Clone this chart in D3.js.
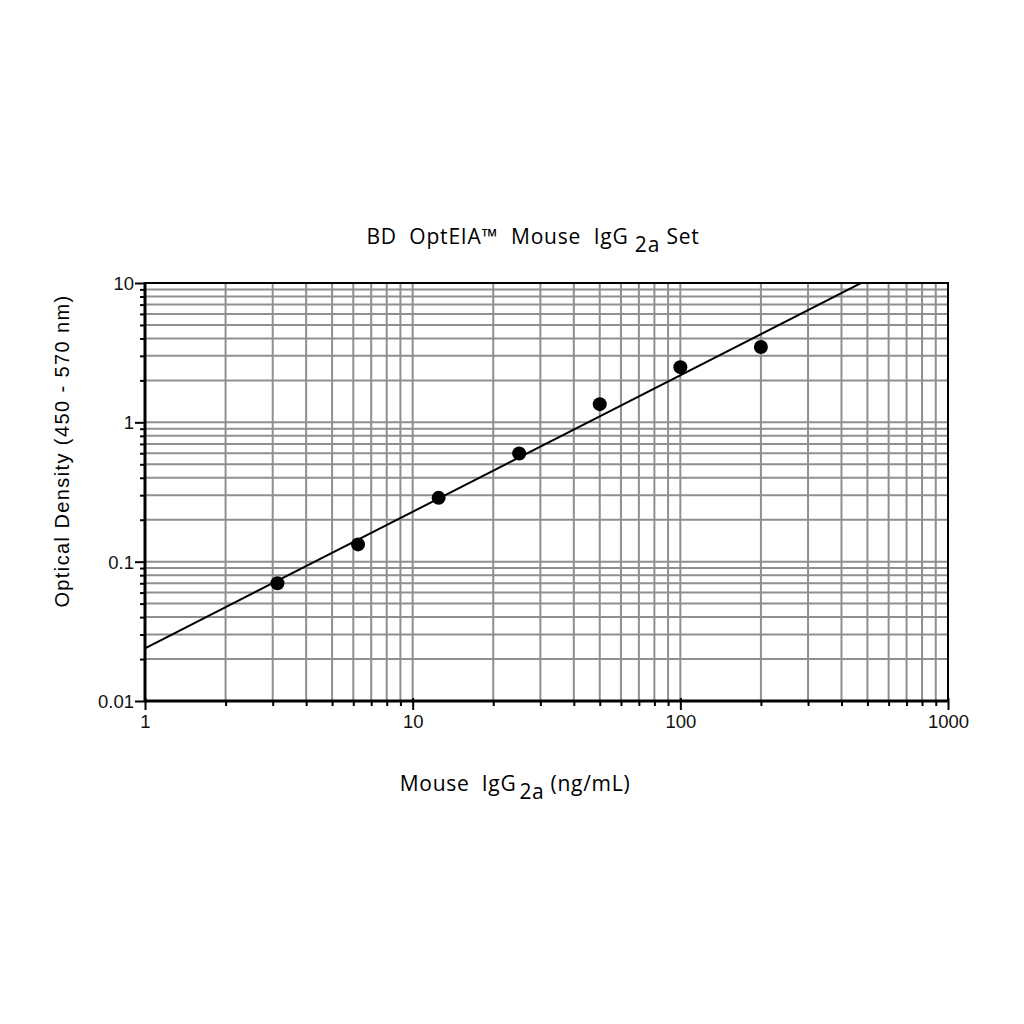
<!DOCTYPE html>
<html>
<head>
<meta charset="utf-8">
<script src="https://cdn.jsdelivr.net/npm/d3@7"></script>
<style>
  body { margin: 0; background: #fff; }
  text { white-space: pre; }
</style>
</head>
<body>
<svg id="canvas" width="1024" height="1024"></svg>
<script>
const conc = [3.125, 6.25, 12.5, 25, 50, 100, 200]
const od = [0.070, 0.133, 0.287, 0.597, 1.35, 2.49, 3.47]
// fitted standard curve, log10(od) = a + b * log10(conc)
const fitA = -1.622
const fitB = 0.98
const xTicks = [1, 10, 100, 1000]
const yTicks = [0.01, 0.1, 1, 10]

const plotLeft = 145, plotRight = 948, plotTop = 283, plotBottom = 701

const svg = d3.select("#canvas")

const x = d3.scaleLog().domain([1, 1000]).range([plotLeft, plotRight])
const y = d3.scaleLog().domain([0.01, 10]).range([plotBottom, plotTop])

// minor values for the grid, 2..9 in each decade
const xMinor = []
for (let d = 1; d < 1000; d *= 10)
    for (let k = 2; k <= 9; k++) xMinor.push(d * k)
const yMinor = []
for (let d = 0.01; d < 9; d *= 10)
    for (let k = 2; k <= 9; k++) yMinor.push(+(d * k).toPrecision(3))

const grid = svg.append("g").attr("stroke", "#8f8f8f").attr("stroke-width", 2)
grid.selectAll(".gx").data(xMinor.concat([10, 100])).enter().append("line")
    .attr("x1", d => x(d)).attr("x2", d => x(d))
    .attr("y1", plotTop).attr("y2", plotBottom)
grid.selectAll(".gy").data(yMinor.concat([0.1, 1])).enter().append("line")
    .attr("x1", plotLeft).attr("x2", plotRight)
    .attr("y1", d => y(d)).attr("y2", d => y(d))

// frame
svg.append("rect")
    .attr("x", plotLeft).attr("y", plotTop)
    .attr("width", plotRight - plotLeft).attr("height", plotBottom - plotTop)
    .attr("fill", "none").attr("stroke", "black").attr("stroke-width", 2)

const xAxis = svg.append("g")
    .attr("transform", `translate(0,${plotBottom})`)
    .call(d3.axisBottom(x).tickValues(xTicks.concat(xMinor)).tickSize(5)
        .tickFormat(d => xTicks.includes(d) ? d : ""))
xAxis.selectAll(".tick line").attr("stroke-width", 2)
    .attr("y1", d => xTicks.includes(d) ? -3 : 0)
    .attr("y2", d => xTicks.includes(d) ? 9 : 5)
xAxis.selectAll("text").attr("font-family", "Liberation Sans, Arial").attr("font-size", 18.5)
    .attr("fill", "#111").attr("dy", "1.0em")

const yAxis = svg.append("g")
    .attr("transform", `translate(${plotLeft},0)`)
    .call(d3.axisLeft(y).tickValues(yTicks.concat(yMinor)).tickSize(5)
        .tickFormat(d => yTicks.includes(d) ? d : ""))
yAxis.selectAll(".tick line").attr("stroke-width", 2)
    .attr("x2", d => yTicks.includes(d) ? -10 : -5)
yAxis.selectAll("text").attr("font-family", "Liberation Sans, Arial").attr("font-size", 18.5)
    .attr("fill", "#111").attr("x", -11).attr("dy", "0.35em")
svg.selectAll(".domain").remove()

// thick left and bottom axes lines
svg.append("line").attr("x1", plotLeft).attr("x2", plotLeft).attr("y1", plotTop - 1).attr("y2", plotBottom + 1)
    .attr("stroke", "black").attr("stroke-width", 3)
svg.append("line").attr("x1", plotLeft).attr("x2", plotRight + 1).attr("y1", plotBottom).attr("y2", plotBottom)
    .attr("stroke", "black").attr("stroke-width", 3)

// fit line, clipped to plot area
svg.append("clipPath").attr("id", "clip").append("rect")
    .attr("x", plotLeft).attr("y", plotTop).attr("width", plotRight - plotLeft).attr("height", plotBottom - plotTop)
const fitX = [1, 1000]
svg.append("path")
    .datum(fitX.map(c => [c, Math.pow(10, fitA + fitB * Math.log10(c))]))
    .attr("clip-path", "url(#clip)")
    .attr("d", d3.line().x(d => x(d[0])).y(d => y(d[1])))
    .attr("stroke", "black").attr("stroke-width", 2).attr("fill", "none")

svg.selectAll(".pt").data(conc).enter().append("circle")
    .attr("cx", d => x(d)).attr("cy", (d, i) => y(od[i]))
    .attr("r", 7).attr("fill", "black")

// title
const title = svg.append("text").attr("x", 533).attr("y", 244)
    .attr("text-anchor", "middle").attr("font-family", "Open Sans").attr("font-size", 21)
    .attr("letter-spacing", 0.8)
title.append("tspan").text("BD  OptEIA\u2122  Mouse  IgG ")
title.append("tspan").attr("dy", 8).text("2a")
title.append("tspan").attr("dy", -8).text(" Set")

const xLabel = svg.append("text").attr("x", 515).attr("y", 791)
    .attr("text-anchor", "middle").attr("font-family", "Open Sans").attr("font-size", 21)
    .attr("letter-spacing", 0.7)
xLabel.append("tspan").text("Mouse  IgG")
xLabel.append("tspan").attr("dy", 8).attr("dx", 3).text("2a")
xLabel.append("tspan").attr("dy", -8).text(" (ng/mL)")

svg.append("text")
    .attr("transform", `translate(69,451) rotate(-90)`)
    .attr("text-anchor", "middle").attr("font-family", "Liberation Sans, Arial").attr("font-size", 20)
    .attr("letter-spacing", 1.4)
    .text("Optical Density (450 - 570 nm)")
</script>
</body>
</html>
